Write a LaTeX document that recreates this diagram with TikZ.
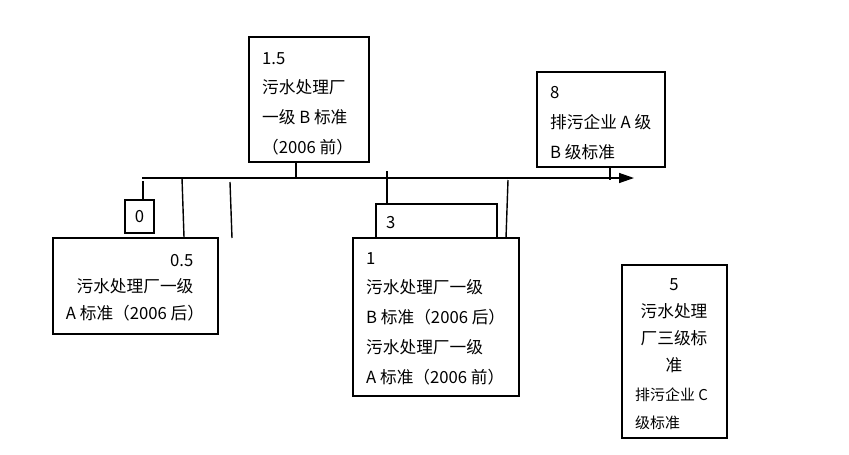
\documentclass[tikz,border=0pt]{standalone}
\usepackage{fontspec}
\setmainfont{Noto Sans CJK SC}
\usetikzlibrary{arrows.meta}
\tikzstyle{valbox}=[draw=black, line width=0.8pt, shape=rectangle, inner sep=0pt, font=\fontsize{9.5}{17}\selectfont]
\tikzstyle{tick}=[line width=0.8pt, black]

\begin{document}
\begin{tikzpicture}[x=0.02cm, y=-0.02cm]
\useasboundingbox (0,0) rectangle (849,454);
\node [valbox, minimum width=2.4cm, minimum height=2.5cm] (b15) at (309,99.5) {};
\node [anchor=north west, align=left, font=\fontsize{9.5}{17}\selectfont] (t15) at (256,46) {1.5\\污水处理厂\\一级 B 标准\\（2006 前）};
\node [valbox, minimum width=2.56cm, minimum height=1.9cm] (b8) at (601,119.5) {};
\node [anchor=north west, align=left, font=\fontsize{9.5}{17}\selectfont] (t8) at (544,80) {8\\排污企业 A 级\\B 级标准};
\node [valbox, minimum width=0.58cm, minimum height=0.66cm] (b0) at (139.5,216.5) {0};
\node [valbox, minimum width=3.3cm, minimum height=1.92cm] (b05) at (135.5,286) {};
\node [anchor=north, align=center, font=\fontsize{9.5}{15}\selectfont] (t05) at (135,248) {\hspace*{5.6em}0.5\\污水处理厂一级\\A 标准（2006 后）};
\node [valbox, minimum width=2.42cm, minimum height=0.68cm] (b3) at (436.5,221) {};
\node [anchor=north west, font=\fontsize{9.5}{17}\selectfont] (t3) at (380,210) {3};
\node [valbox, minimum width=3.32cm, minimum height=3.16cm] (b1) at (436,317) {};
\node [anchor=north west, align=left, font=\fontsize{9.5}{17}\selectfont] (t1) at (360,246) {1\\污水处理厂一级\\B 标准（2006 后）\\污水处理厂一级\\A 标准（2006 前）};
\node [valbox, minimum width=2.1cm, minimum height=3.46cm] (b5) at (674.5,351.5) {};
\node [anchor=north, align=center, font=\fontsize{9.5}{15.5}\selectfont] (t5) at (674,272) {5\\污水处理\\厂三级标\\准};
\node [anchor=north west, align=left, font=\fontsize{8.5}{15.5}\selectfont] (t5b) at (629,382) {排污企业 C\\级标准};

\coordinate (a0) at (142,178);
\coordinate (a1) at (634,178);
\draw [line width=0.8pt, -{Triangle[length=3mm, width=2mm]}] (a0) -- (a1);

\coordinate (k0) at (143,181);
\coordinate (k05) at (182,178);
\coordinate (k05b) at (184,237);
\coordinate (kx) at (230,182);
\coordinate (kxb) at (232,238);
\coordinate (k15) at (296,178);
\coordinate (k3) at (387,171);
\coordinate (k1) at (508,180);
\coordinate (k1b) at (506,238);
\coordinate (k8) at (610,167);
\coordinate (k8b) at (610,180);
\draw [tick] (k0) -- (b0.north -| k0);
\draw [tick] (k05) -- (k05b);
\draw [tick] (kx) -- (kxb);
\draw [tick] (b15.south -| k15) -- (k15);
\draw [tick] (k3) -- (b3.north -| k3);
\draw [tick] (k1) -- (k1b);
\draw [tick] (k8) -- (k8b);
\end{tikzpicture}
\end{document}
